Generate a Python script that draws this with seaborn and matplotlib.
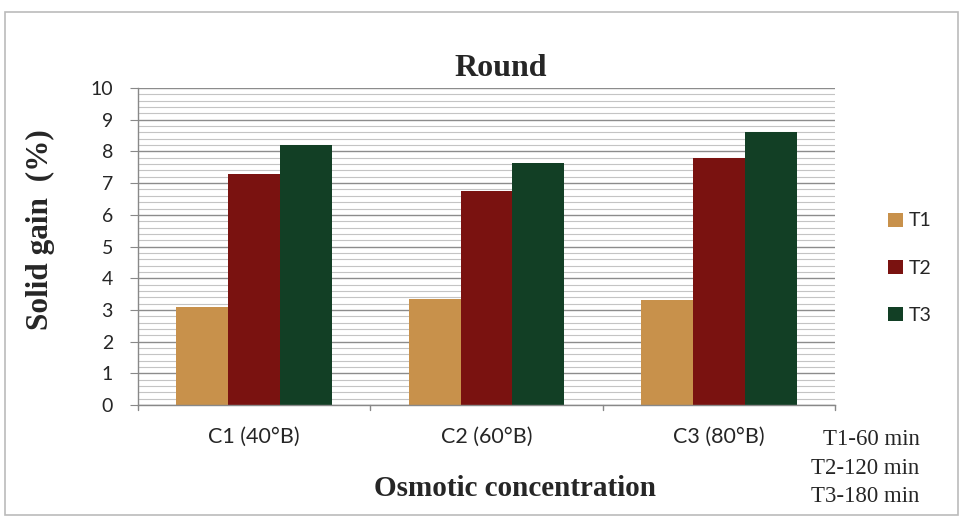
import matplotlib
matplotlib.use("Agg")
import matplotlib.pyplot as plt
import seaborn as sns
import pandas as pd
from matplotlib.ticker import MultipleLocator
from matplotlib.patches import Rectangle

categories = ["C1 (40°B)", "C2 (60°B)", "C3 (80°B)"]
series = ["T1", "T2", "T3"]
t1 = [3.1, 3.35, 3.3]
t2 = [7.3, 6.75, 7.8]
t3 = [8.2, 7.65, 8.6]
colors = ["#C8914B", "#7A1210", "#123F25"]
yticks = list(range(0, 11))
note_lines = ["T1-60 min", "T2-120 min", "T3-180 min"]

rows = []
for name, vals in zip(series, [t1, t2, t3]):
    for c, v in zip(categories, vals):
        rows.append({"cat": c, "series": name, "val": v})
df = pd.DataFrame(rows)

sns.set_style("white")
plt.rcParams["font.family"] = ["Lato", "DejaVu Sans"]
serif = ["Liberation Serif", "DejaVu Serif"]

fig = plt.figure(figsize=(9.61, 5.21), dpi=100)
ax = fig.add_axes([0.1436, 0.2226, 0.7253, 0.6084])

sns.barplot(data=df, x="cat", y="val", hue="series", palette=colors,
            width=0.67, saturation=1, ax=ax, legend=True, errorbar=None,
            linewidth=0)

ax.set_ylim(0, 10)
ax.set_yticks(yticks)
ax.set_yticklabels([str(v) for v in yticks], fontsize=14)
ax.yaxis.set_minor_locator(MultipleLocator(0.2))
ax.grid(which="major", axis="y", color="#8c8c8c", linewidth=1.0)
ax.grid(which="minor", axis="y", color="#c4c4c4", linewidth=0.8)
ax.set_axisbelow(True)
ax.tick_params(axis="x", labelsize=15.5, length=0, pad=16)
ax.tick_params(axis="y", which="major", length=6, color="#888888", left=True, pad=12)
ax.tick_params(axis="y", which="minor", length=0)
for s in ["top", "right"]:
    ax.spines[s].set_visible(False)
for s in ["left", "bottom"]:
    ax.spines[s].set_color("#888888")
    ax.spines[s].set_linewidth(1.0)

ax.set_xlim(-0.5, 2.5)
for xv in [-0.5, 0.5, 1.5, 2.5]:
    ax.plot([xv, xv], [0, -0.15], color="#888888", lw=1.0, clip_on=False)

ax.set_xlabel("Osmotic concentration", family=serif, fontsize=21, fontweight="bold")
ax.xaxis.set_label_coords(0.541, -0.222)
ax.xaxis.label.set_va("top")
ax.set_ylabel("Solid gain  (%)", family=serif, fontsize=22.5, fontweight="bold")
ax.yaxis.set_label_coords(-0.119, 0.552)
ax.set_title("Round", family=serif, fontsize=23, fontweight="bold", pad=9, x=0.521)

leg = ax.legend(loc="center left", bbox_to_anchor=(1.076, 0.432), frameon=False,
                fontsize=14, handlelength=0.75, handleheight=0.75,
                labelspacing=1.55, handletextpad=0.3, borderaxespad=0, borderpad=0)

note_y = [0.1555, 0.1017, 0.0461]
for line, yy in zip(note_lines, note_y):
    fig.text(0.957, yy, line, ha="right", va="center", family=serif, fontsize=16.5)

fig.patches.append(Rectangle((5 / 961, 1 - 515 / 521), 953 / 961, 503 / 521,
                             transform=fig.transFigure, fill=False,
                             edgecolor="#bbbbbb", linewidth=1.2))

fig.savefig("out.png", dpi=100, facecolor="white")
